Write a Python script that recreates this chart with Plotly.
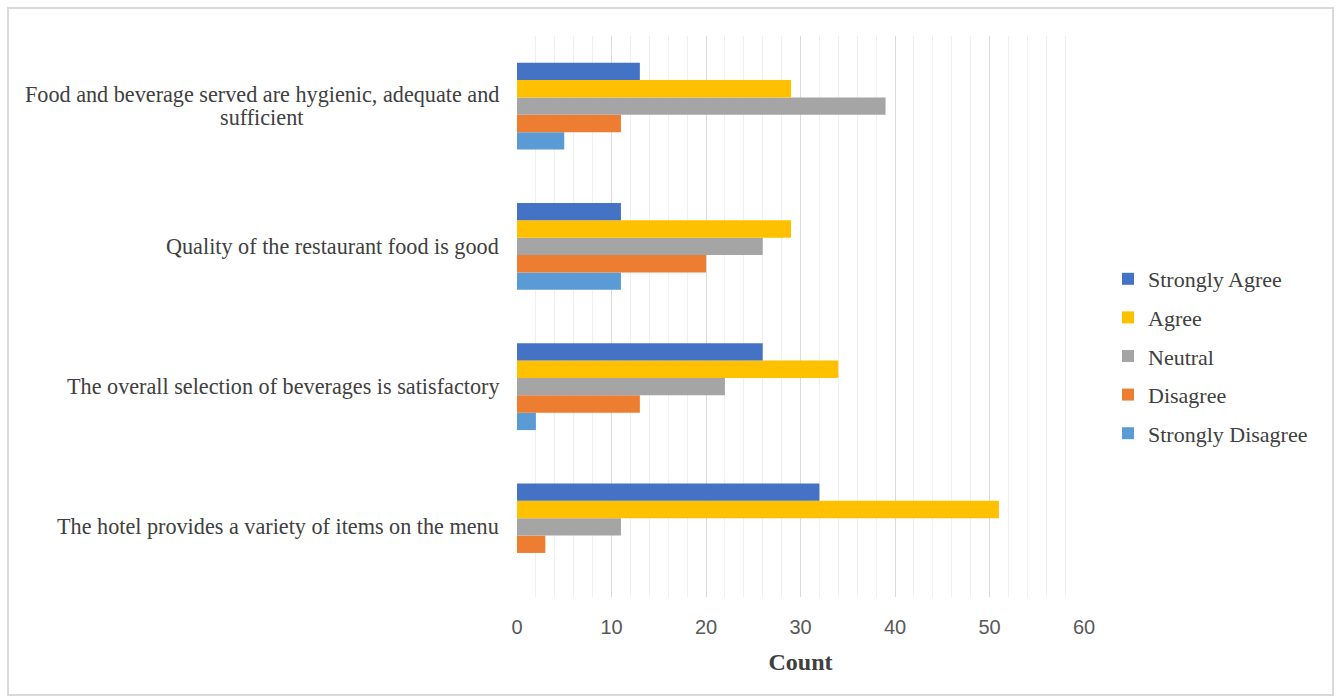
import plotly.graph_objects as go

categories = [
    "The hotel provides a variety of items on the menu",
    "The overall selection of beverages is satisfactory",
    "Quality of the restaurant food is good",
    "Food and beverage served are hygienic, adequate and<br>sufficient",
]
strongly_agree = [32, 26, 11, 13]
agree = [51, 34, 29, 29]
neutral = [11, 22, 26, 39]
disagree = [3, 13, 20, 11]
strongly_disagree = [0, 2, 11, 5]

series = [
    ("Strongly Disagree", strongly_disagree, "#5B9BD5", 5),
    ("Disagree", disagree, "#ED7D31", 4),
    ("Neutral", neutral, "#A5A5A5", 3),
    ("Agree", agree, "#FFC000", 2),
    ("Strongly Agree", strongly_agree, "#4472C4", 1),
]

W, H = 1338, 698
L, R, T, B = 517, 254, 36, 101
pw, ph = W - L - R, H - T - B

fig = go.Figure()
for name, vals, color, rank in series:
    fig.add_trace(go.Bar(
        y=categories, x=vals, name=name, orientation="h",
        marker=dict(color=color, line=dict(width=0)),
        legendgroup=name, legendrank=rank,
    ))

# category labels
line_h = 23
label_font = dict(family="Liberation Serif", size=22.2, color="#404040")
for c in categories:
    lines = c.split("<br>")
    n = len(lines)
    if n == 1:
        fig.add_annotation(
            x=0, xref="paper", xshift=-16, y=c, yref="y",
            text=c, showarrow=False, xanchor="right", font=label_font,
        )
    else:
        # multi-line label: lines centred on one another
        for i, ln in enumerate(lines):
            fig.add_annotation(
                x=(261.5 - L) / pw, xref="paper", y=c, yref="y",
                yshift=((n - 1) / 2 - i) * line_h,
                text=ln, showarrow=False, xanchor="center", font=label_font,
            )

fig.add_shape(
    type="rect", xref="paper", yref="paper",
    x0=(8 - L) / pw, x1=(1333 - L) / pw,
    y0=(H - B - 695) / ph, y1=(H - B - 8) / ph,
    line=dict(color="#D9D9D9", width=2), fillcolor="rgba(0,0,0,0)", layer="below",
)

fig.update_layout(
    width=W, height=H,
    margin=dict(l=L, r=R, t=T, b=B, autoexpand=False),
    paper_bgcolor="white", plot_bgcolor="white",
    barmode="group", bargap=0.38, bargroupgap=0,
    showlegend=True,
    legend=dict(
        traceorder="grouped", tracegroupgap=7,
        x=(1108 - L) / pw, xanchor="left", y=(H - B - 258) / ph, yanchor="top",
        font=dict(family="Liberation Serif", size=22, color="#404040"),
        itemwidth=30, bgcolor="rgba(0,0,0,0)",
    ),
    xaxis=dict(
        range=[0, 60], dtick=10, tick0=0,
        showgrid=True, gridcolor="#D9D9D9", gridwidth=1,
        minor=dict(dtick=2, showgrid=True, gridcolor="#EFEFEF", gridwidth=1),
        zeroline=False, showline=False,
        tickfont=dict(family="Liberation Sans", size=20, color="#595959"),
        ticklabelstandoff=16,
        title=dict(text="<b>Count</b>", standoff=16,
                   font=dict(family="Liberation Serif", size=24, color="#404040")),
        fixedrange=True,
    ),
    yaxis=dict(
        showticklabels=False, showgrid=False, zeroline=False, showline=False,
        categoryorder="array", categoryarray=categories, fixedrange=True,
    ),
)

fig.write_html("out.html")
